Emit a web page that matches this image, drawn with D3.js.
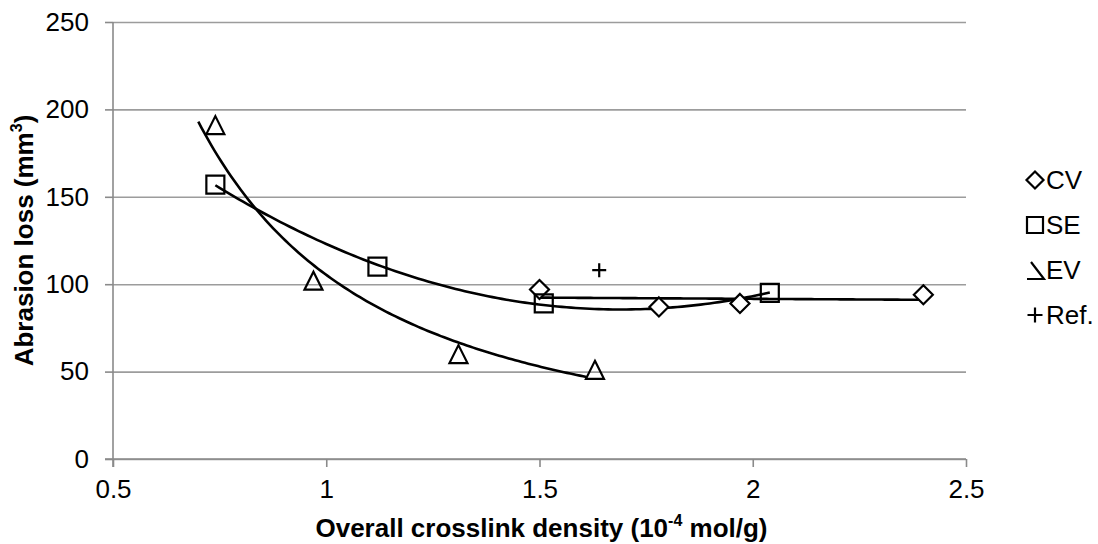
<!DOCTYPE html>
<html>
<head>
<meta charset="utf-8">
<script src="https://cdn.jsdelivr.net/npm/d3@7/dist/d3.min.js"></script>
<style>
  html, body { margin: 0; padding: 0; background: #fff; }
  svg { display: block; font-family: "Liberation Sans", Arial, sans-serif; }
</style>
</head>
<body>
<svg id="chart" width="1098" height="544"></svg>
<script>
// ---- data ----
const seriesNames = ["CV", "SE", "EV", "Ref."];
const cvX = [1.50, 1.78, 1.97, 2.40];
const cvY = [97, 87, 89, 94];
const seX = [0.74, 1.12, 1.51, 2.04];
const seY = [157, 110, 89, 95];
const evX = [0.74, 0.97, 1.31, 1.63];
const evY = [191, 102, 60, 51];
const refX = [1.64];
const refY = [108];
// trendline ranges
const evTrendRange = [0.70, 1.61];
const xTicks = [0.5, 1, 1.5, 2, 2.5];
const yTicks = [0, 50, 100, 150, 200, 250];

// ---- layout ----
const plot = { left: 113, right: 966, top: 22, bottom: 459 };
const svg = d3.select("#chart");

const x = d3.scaleLinear().domain([0.5, 2.5]).range([plot.left, plot.right]);
const y = d3.scaleLinear().domain([0, 250]).range([plot.bottom, plot.top]);

const gridColor = "#9c9c9c";
const axisColor = "#8a8a8a";
const fontFam = "Liberation Sans, Arial, sans-serif";

// gridlines (horizontal) via axis
const yGrid = svg.append("g").attr("transform", `translate(${plot.left},0)`)
  .call(d3.axisLeft(y).tickValues(yTicks).tickSize(-(plot.right - plot.left)).tickFormat(""));
yGrid.select(".domain").remove();
yGrid.selectAll("line").attr("stroke", gridColor).attr("stroke-width", 1.6);

// y axis with tick marks outside
const yAxis = svg.append("g").attr("transform", `translate(${plot.left},0)`)
  .call(d3.axisLeft(y).tickValues(yTicks).tickSize(8).tickPadding(16).tickFormat(d3.format("d")));
yAxis.select(".domain").attr("stroke", axisColor).attr("stroke-width", 1.6)
  .attr("d", `M0,${plot.top}V${plot.bottom + 8}`);
yAxis.selectAll("line").attr("stroke", axisColor).attr("stroke-width", 1.6);
yAxis.selectAll("text").attr("font-size", 26).attr("fill", "#000").attr("font-family", fontFam);

// x axis
const xAxis = svg.append("g").attr("transform", `translate(0,${plot.bottom})`)
  .call(d3.axisBottom(x).tickValues(xTicks).tickSize(8).tickPadding(13).tickFormat(d => String(d)));
xAxis.select(".domain").attr("stroke", axisColor).attr("stroke-width", 1.6)
  .attr("d", `M${plot.left - 8},0H${plot.right}`);
xAxis.selectAll("line").attr("stroke", axisColor).attr("stroke-width", 1.6);
xAxis.selectAll("text").attr("font-size", 26).attr("fill", "#000").attr("font-family", fontFam);

// ---- trendlines (computed from data) ----
function linearFit(xs, ys) {
  const n = xs.length, mx = d3.mean(xs), my = d3.mean(ys);
  let sxy = 0, sxx = 0;
  for (let i = 0; i < n; i++) { sxy += (xs[i]-mx)*(ys[i]-my); sxx += (xs[i]-mx)**2; }
  const b = sxy / sxx, a = my - b * mx;
  return v => a + b * v;
}
function powerFit(xs, ys) {
  const f = linearFit(xs.map(Math.log), ys.map(Math.log));
  return v => Math.exp(f(Math.log(v)));
}
function quadFit(xs, ys) {
  const S = [0,0,0,0,0], T = [0,0,0];
  for (let i = 0; i < xs.length; i++) {
    for (let k = 0; k < 5; k++) S[k] += xs[i] ** k;
    for (let k = 0; k < 3; k++) T[k] += ys[i] * xs[i] ** k;
  }
  const M = [[S[0],S[1],S[2],T[0]],[S[1],S[2],S[3],T[1]],[S[2],S[3],S[4],T[2]]];
  for (let c = 0; c < 3; c++) {
    let p = c; for (let r = c+1; r < 3; r++) if (Math.abs(M[r][c]) > Math.abs(M[p][c])) p = r;
    [M[c], M[p]] = [M[p], M[c]];
    for (let r = 0; r < 3; r++) if (r !== c) {
      const f = M[r][c] / M[c][c];
      for (let k = c; k < 4; k++) M[r][k] -= f * M[c][k];
    }
  }
  const c0 = M[0][3]/M[0][0], c1 = M[1][3]/M[1][1], c2 = M[2][3]/M[2][2];
  return v => c0 + c1*v + c2*v*v;
}
function sampleCurve(fn, x0, x1, n = 120) {
  return d3.range(n + 1).map(i => { const v = x0 + (x1 - x0) * i / n; return [v, fn(v)]; });
}
const line = d3.line().x(d => x(d[0])).y(d => y(d[1]));
const trendG = svg.append("g").attr("fill", "none").attr("stroke", "#000").attr("stroke-width", 2.6);
trendG.append("path").attr("d", line(sampleCurve(powerFit(evX, evY), evTrendRange[0], evTrendRange[1])));
trendG.append("path").attr("d", line(sampleCurve(quadFit(seX, seY), d3.min(seX), d3.max(seX))));
trendG.append("path").attr("d", line(sampleCurve(linearFit(cvX, cvY), d3.min(cvX), d3.max(cvX))));

// ---- markers ----
function diamondPath(cx, cy, r) { return `M${cx},${cy-r}L${cx+r},${cy}L${cx},${cy+r}L${cx-r},${cy}Z`; }
function trianglePath(cx, cy, s) { return `M${cx},${cy-s/2}L${cx+s/2},${cy+s/2}L${cx-s/2},${cy+s/2}Z`; }
function squarePath(cx, cy, s) { return `M${cx-s/2},${cy-s/2}h${s}v${s}h${-s}Z`; }
function plusPath(cx, cy, s) { return `M${cx-s/2},${cy}h${s}M${cx},${cy-s/2}v${s}`; }

const mg = svg.append("g").attr("fill", "none").attr("stroke", "#000").attr("stroke-width", 2.2);
mg.selectAll(".cv").data(cvX.map((v,i)=>[v,cvY[i]])).join("path")
  .attr("d", d => diamondPath(x(d[0]), y(d[1]), 9.5)).attr("fill", "#fff");
mg.selectAll(".se").data(seX.map((v,i)=>[v,seY[i]])).join("path")
  .attr("d", d => squarePath(x(d[0]), y(d[1]), 18));
mg.selectAll(".ev").data(evX.map((v,i)=>[v,evY[i]])).join("path")
  .attr("d", d => trianglePath(x(d[0]), y(d[1]), 18));
mg.selectAll(".ref").data(refX.map((v,i)=>[v,refY[i]])).join("path")
  .attr("d", d => plusPath(x(d[0]), y(d[1]), 14));

// ---- axis titles ----
const xt = svg.append("text").attr("x", (plot.left + plot.right) / 2 + 2).attr("y", 537)
  .attr("text-anchor", "middle").attr("font-size", 26).attr("font-weight", "bold");
xt.append("tspan").text("Overall crosslink density (10");
xt.append("tspan").attr("font-size", 16).attr("dy", -11).text("-4");
xt.append("tspan").attr("dy", 11).text(" mol/g)");

const yt = svg.append("text").attr("transform", `translate(33,${(plot.top + plot.bottom) / 2}) rotate(-90)`)
  .attr("text-anchor", "middle").attr("font-size", 26).attr("font-weight", "bold");
yt.append("tspan").text("Abrasion loss (mm");
yt.append("tspan").attr("font-size", 16).attr("dy", -11).text("3");
yt.append("tspan").attr("dy", 11).text(")");

// ---- legend ----
const legRows = [180, 225, 270, 315];
const lg = svg.append("g");
seriesNames.forEach((name, i) => {
  const cy = legRows[i], cx = 1035;
  const p = lg.append("path").attr("fill", "none").attr("stroke", "#000").attr("stroke-width", 2.2);
  if (i === 0) p.attr("d", diamondPath(cx, cy, 8.5));
  if (i === 1) p.attr("d", squarePath(cx, cy, 16));
  if (i === 2) p.attr("d", `M${cx-4},${cy-8}L${cx+9},${cy+9}L${cx-8},${cy+9}`);
  if (i === 3) p.attr("d", plusPath(cx, cy, 15));
  lg.append("text").attr("x", 1046).attr("y", cy).attr("dy", "0.35em")
    .attr("font-size", 26).attr("font-family", fontFam).text(name);
});
</script>
</body>
</html>
